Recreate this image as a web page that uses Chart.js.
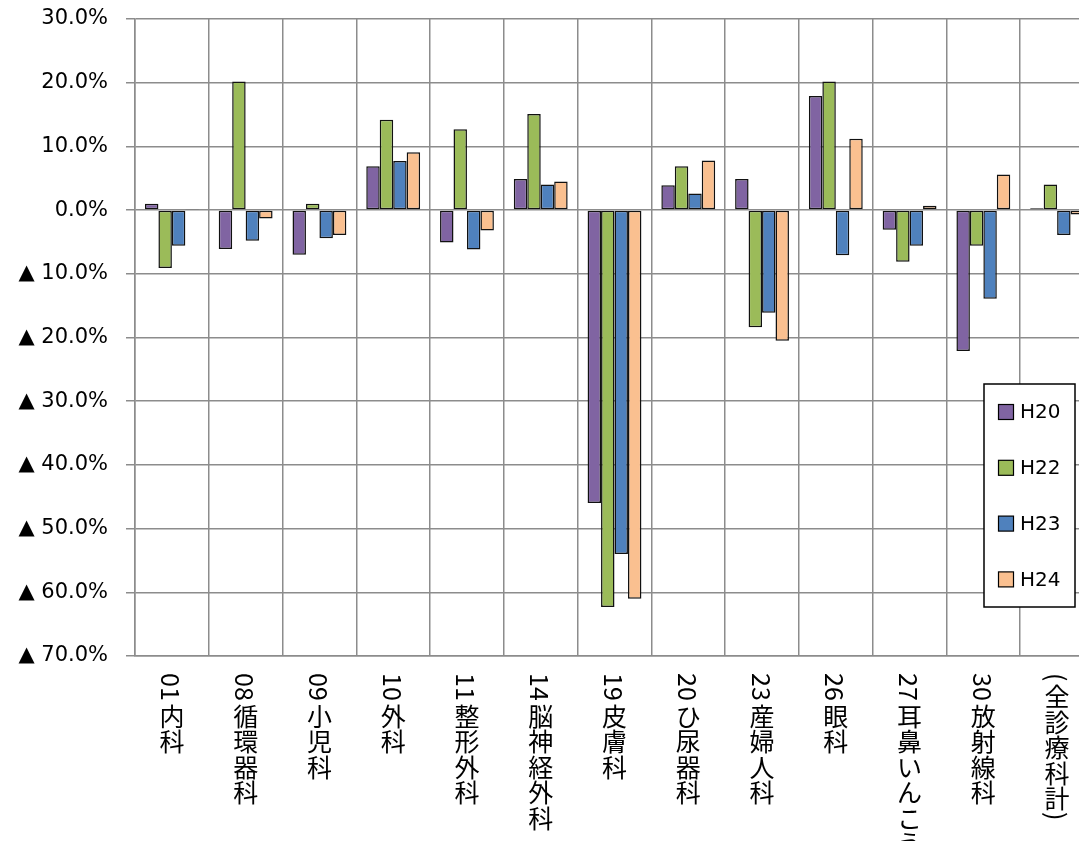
<!DOCTYPE html>
<html>
<head>
<meta charset="utf-8">
<script src="https://cdn.jsdelivr.net/npm/chart.js@4"></script>
<style>
  html, body { margin: 0; padding: 0; background: #fff; overflow: hidden; width: 1079px; height: 841px; }
  canvas { display: block; }
</style>
</head>
<body>
<canvas id="deptChart" width="1094" height="841"></canvas>
<script>
// categories (vertical labels under the axis)
const categories = ['01内科', '08循環器科', '09小児科', '10外科', '11整形外科', '14脳神経外科', '19皮膚科',
  '20ひ尿器科', '23産婦人科', '26眼科', '27耳鼻いんこう科', '30放射線科', '(全診療科計)'];
const seriesNames = ['H20', 'H22', 'H23', 'H24'];

// change rates in percent
const h20 = [1.0, -6.1, -7.0, 6.9, -5.1, 4.9, -46.0, 3.9, 4.9, 17.9, -3.1, -22.1, 0.3];
const h22 = [-9.1, 20.2, 1.0, 14.2, 12.7, 15.1, -62.3, 6.9, -18.4, 20.2, -8.1, -5.6, 4.0];
const h23 = [-5.6, -4.8, -4.4, 7.7, -6.2, 4.0, -54.0, 2.6, -16.1, -7.1, -5.6, -13.9, -3.9];
const h24 = [0.1, -1.3, -3.9, 9.1, -3.2, 4.5, -61.0, 7.8, -20.5, 11.2, 0.7, 5.6, -0.7];

const yMin = -70, yMax = 30, yStep = 10;

const colors = ['#8064A2', '#9BBB59', '#4F81BD', '#FAC090'];
const gridColor = '#8c8c8c';
const latinFont = '"DejaVu Sans", "Noto Sans CJK JP", sans-serif';

// draws the category names top-to-bottom, latin runs turned sideways
const verticalLabels = {
  id: 'verticalLabels',
  afterDraw(chart) {
    const ctx = chart.ctx;
    const xScale = chart.scales.x;
    ctx.save();
    ctx.fillStyle = '#000';
    ctx.font = '25px "Noto Sans CJK JP", "DejaVu Sans", sans-serif';
    chart.data.labels.forEach((label, i) => {
      const cx = xScale.getPixelForValue(i);
      let y = chart.chartArea.bottom + 17;
      const runs = label.match(/[\x00-\x7F]+|./gu);
      runs.forEach(run => {
        if (/^[\x00-\x7F]+$/.test(run)) {
          ctx.save();
          ctx.translate(cx, y);
          ctx.rotate(Math.PI / 2);
          ctx.textAlign = 'left';
          ctx.textBaseline = 'middle';
          ctx.fillText(run, 0, 1);
          ctx.restore();
          y += ctx.measureText(run).width + 3;
        } else {
          ctx.textAlign = 'center';
          ctx.textBaseline = 'top';
          ctx.fillText(run, cx, y);
          y += 25.5;
        }
      });
    });
    ctx.restore();
  }
};

// boxed legend sitting inside the plot, stacked vertically
const boxLegend = {
  id: 'boxLegend',
  afterDraw(chart) {
    const ctx = chart.ctx;
    const left = 984, top = 384, w = 91, h = 223;
    ctx.save();
    ctx.fillStyle = '#fff';
    ctx.fillRect(left, top, w, h);
    ctx.lineWidth = 1.5;
    ctx.strokeStyle = '#000';
    ctx.strokeRect(left, top, w, h);
    ctx.font = '20px ' + latinFont;
    ctx.textBaseline = 'middle';
    ctx.textAlign = 'left';
    chart.data.datasets.forEach((ds, k) => {
      const cy = top + 28 + k * 55.8;
      ctx.fillStyle = ds.backgroundColor;
      ctx.fillRect(left + 14.5, cy - 7.5, 15, 15);
      ctx.lineWidth = 1.2;
      ctx.strokeStyle = '#000';
      ctx.strokeRect(left + 14.5, cy - 7.5, 15, 15);
      ctx.fillStyle = '#000';
      ctx.fillText(ds.label, left + 36, cy + 1);
    });
    ctx.restore();
  }
};

const ctx = document.getElementById('deptChart').getContext('2d');
new Chart(ctx, {
  type: 'bar',
  data: {
    labels: categories,
    datasets: [h20, h22, h23, h24].map((vals, k) => ({
      label: seriesNames[k],
      data: vals,
      backgroundColor: colors[k],
      borderColor: '#111',
      borderWidth: 1.5,
      borderSkipped: false,
      barPercentage: 1.0,
      categoryPercentage: 0.73
    }))
  },
  options: {
    responsive: false,
    animation: false,
    layout: { padding: { top: 19, right: 0, bottom: 0, left: 0 } },
    plugins: {
      legend: { display: false },
      tooltip: { enabled: false }
    },
    scales: {
      x: {
        offset: true,
        grid: { color: gridColor, lineWidth: 1.5, drawTicks: false, offset: true },
        border: { color: gridColor, width: 1.5 },
        ticks: { display: false },
        afterFit(scale) { scale.height = 185; }
      },
      y: {
        min: yMin,
        max: yMax,
        grid: { color: gridColor, lineWidth: 1.5, tickLength: 9 },
        border: { color: gridColor, width: 1.5 },
        ticks: {
          stepSize: yStep,
          padding: 18,
          color: '#000',
          font: { family: latinFont, size: 21 },
          callback: v => v < 0 ? '▲ ' + (-v).toFixed(1) + '%' : v.toFixed(1) + '%'
        },
        afterFit(scale) {
          scale.width = 135;
          scale.paddingTop = 0;
          scale.paddingBottom = 0;
        }
      }
    }
  },
  plugins: [verticalLabels, boxLegend]
});
</script>
</body>
</html>
